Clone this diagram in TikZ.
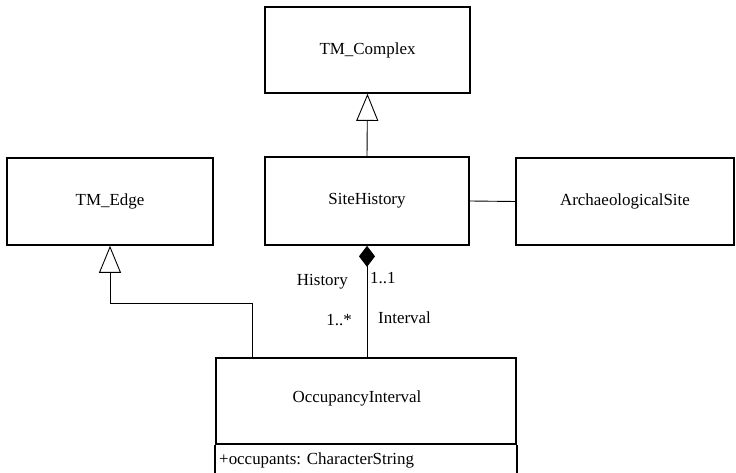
\documentclass[tikz,border=0pt]{standalone}
\usepackage{fontspec}
\setmainfont{Liberation Serif}
\usetikzlibrary{arrows.meta}
\begin{document}
\begin{tikzpicture}[x=1bp,y=-1bp,
  txt/.style={inner sep=0pt, font=\fontsize{17}{20}\selectfont},
  cls/.style={txt, draw, line width=1.7bp},
  conn/.style={line width=0.9bp},
  gen/.style={conn, -{Triangle[open,length=27bp,width=22bp,line width=0.9bp]}},
  comp/.style={conn, -{Diamond[length=21bp,width=16bp]}}]
\useasboundingbox (0,0) rectangle (736,473);
\clip (0,0) rectangle (736,473);

% classes
\node[cls, minimum width=205bp, minimum height=86bp] (complex) at (367.5,50) {TM\_Complex};
\node[cls, minimum width=206bp, minimum height=87bp] (edge) at (110,201.5) {TM\_Edge};
\node[cls, minimum width=204bp, minimum height=88bp] (site) at (367,201) {SiteHistory};
\node[cls, minimum width=218bp, minimum height=87bp] (arch) at (625,201.5) {ArchaeologicalSite};
\node[cls, minimum width=300bp, minimum height=86bp] (occ) at (366,401) {};
\node[txt] (occname) at (357,398) {OccupancyInterval};
% attribute compartment, running on below the lower edge
\draw[line width=1.7bp] (occ.south west) -- ++(0,40) (occ.south east) -- ++(0,40);
\node[txt, anchor=west] (attr) at (219,460) {+occupants: CharacterString};

% generalizations
\draw[gen] (site.north) -- (complex.south);
\draw[gen] ([xshift=37bp]occ.north west) |- ([yshift=-58bp]edge.south) -- (edge.south);

% composition and association
\draw[comp] (occ.north -| site.south) -- (site.south);
\draw[conn] (site.east) -- (arch.west);

% role names and multiplicities
\node[txt, anchor=east] (role1) at (348,282) {History};
\node[txt, anchor=west] (mult1) at (370,278) {1..1};
\node[txt, anchor=east] (mult2) at (352,320) {1..*};
\node[txt, anchor=west] (role2) at (378,318) {Interval};
\end{tikzpicture}
\end{document}
